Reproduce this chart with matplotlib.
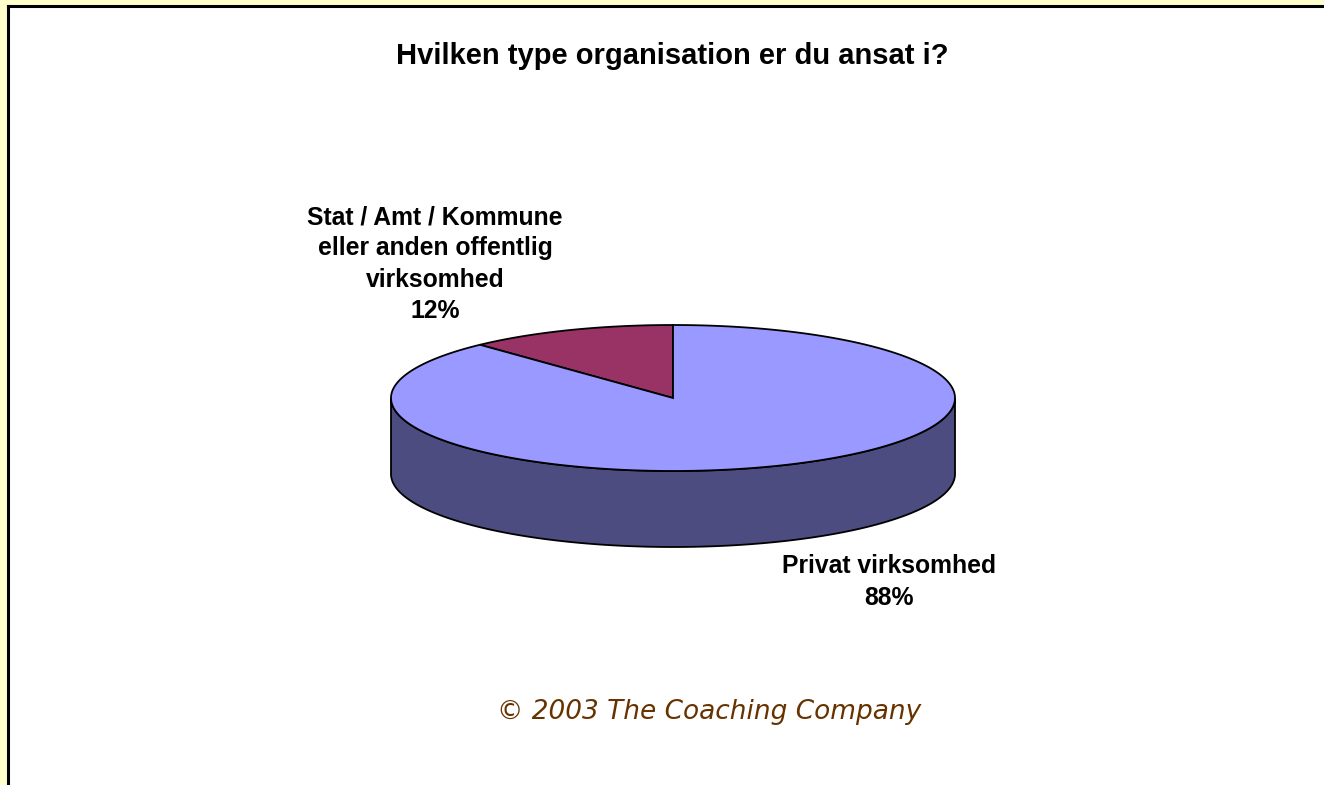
import matplotlib
matplotlib.use("Agg")
import matplotlib.pyplot as plt
from matplotlib.patches import Polygon, Rectangle
import numpy as np

# survey data
labels = ["Stat / Amt / Kommune\neller anden offentlig\nvirksomhed", "Privat virksomhed"]
values = [12, 88]
colors = ["#993366", "#9999FF"]
side_colors = ["#4C1A33", "#4C4C80"]

W, H = 1324, 785
fig = plt.figure(figsize=(W / 100, H / 100), dpi=100)
fig.patch.set_facecolor("#FFFFCC")
ax = fig.add_axes([0, 0, 1, 1])
ax.set_xlim(0, W)
ax.set_ylim(H, 0)
ax.axis("off")

# white panel with black frame on top/left
ax.add_patch(Rectangle((8, 6), W, H, facecolor="white", edgecolor="none", zorder=0))
ax.plot([8, W], [6, 6], color="black", lw=2.2, zorder=1)
ax.plot([8, 8], [6, H], color="black", lw=2.2, zorder=1)

# pie geometry (screen pixels)
cx, cy, a, b, depth = 673, 398, 282, 73, 76

def pt(deg, dy=0):
    t = np.radians(deg)
    return cx + a * np.cos(t), cy - b * np.sin(t) + dy

# slices counter-clockwise from 12 o'clock
fracs = np.array(values) / sum(values)
starts = 90 + 360 * np.concatenate([[0], np.cumsum(fracs)[:-1]])
ends = starts + 360 * fracs

# side walls (front half: 180..360)
for s, e, sc in zip(starts, ends, side_colors):
    for k in (0, 360):
        lo, hi = max(s, 180 + k), min(e, 360 + k)
        if hi > lo:
            th = np.linspace(lo, hi, 200)
            top = [pt(t) for t in th]
            bot = [pt(t, depth) for t in th[::-1]]
            ax.add_patch(Polygon(top + bot, closed=True, facecolor=sc,
                                 edgecolor="black", lw=1.3, zorder=2))

# top faces
for s, e, c in zip(starts, ends, colors):
    th = np.linspace(s, e, 400)
    verts = [(cx, cy)] + [pt(t) for t in th]
    ax.add_patch(Polygon(verts, closed=True, facecolor=c, edgecolor="black",
                         lw=1.3, joinstyle="miter", zorder=3))

font = "Liberation Sans"
ax.text(672, 56, "Hvilken type organisation er du ansat i?", ha="center", va="center",
        fontsize=21, fontweight="bold", family=font)

ax.text(435, 264, labels[0] + "\n%d%%" % values[0], ha="center", va="center",
        fontsize=17.8, fontweight="bold", family=font, linespacing=1.38)
ax.text(889, 582, labels[1] + "\n%d%%" % values[1], ha="center", va="center",
        fontsize=17.8, fontweight="bold", family=font, linespacing=1.38)

ax.text(709, 712, "\u00a9 2003 The Coaching Company", ha="center", va="center",
        fontsize=19, style="italic", color="#663300", family="DejaVu Sans")

fig.savefig("out.png", dpi=100, facecolor=fig.get_facecolor())
